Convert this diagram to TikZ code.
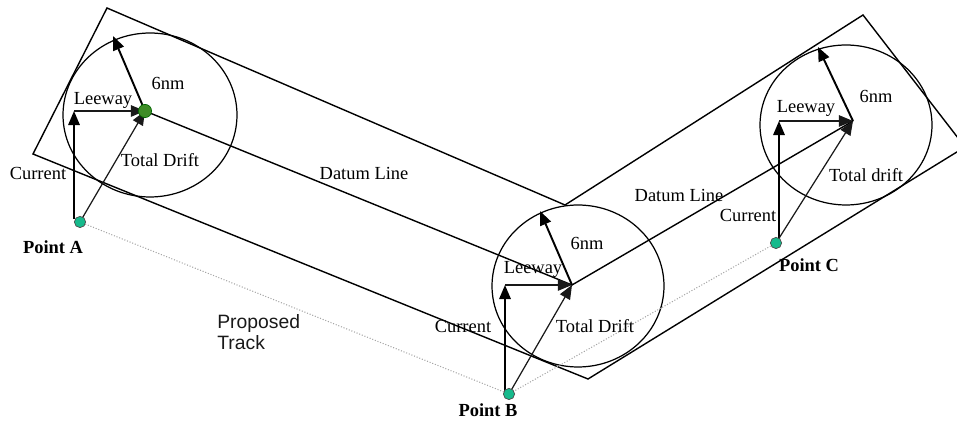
\documentclass[tikz,border=0pt]{standalone}
\usepackage{fontspec}
\setmainfont{Liberation Serif}
\newfontfamily\arialfont{Liberation Sans}
\usetikzlibrary{arrows.meta}
\definecolor{ptteal}{RGB}{22,186,140}
\definecolor{ctrgreen}{RGB}{62,140,38}
\tikzset{
  vec/.style={line width=1.1pt,-{Triangle[length=8pt,width=6.5pt]}},
  drift/.style={line width=0.7pt,black!90,-{Triangle[length=8pt,width=6.5pt]}},
  track/.style={gray!70,densely dotted,line width=0.6pt},
  lbl/.style={font=\fontsize{10.5}{12}\selectfont,inner sep=0pt},
  ptlbl/.style={font=\fontsize{10.5}{12}\selectfont\bfseries,inner sep=0pt},
  ptdot/.style={circle,fill=ptteal,draw=black!70,line width=0.4pt,inner sep=0pt,minimum size=6.4pt}
}

\begin{document}
\begin{tikzpicture}[x=0.02cm,y=-0.02cm]
\useasboundingbox (0,0) rectangle (957,421);
\clip (0,0) rectangle (957,421);
% points of the proposed track and the datum positions
\coordinate (ptA) at (80,222);
\coordinate (ptB) at (509,394);
\coordinate (ptC) at (776,243);
\coordinate (ctrA) at (145,111);
\coordinate (ctrB) at (572,285);
\coordinate (ctrC) at (853,121);
\coordinate (curA0) at (74,219);
\coordinate (curA) at (74,111);
\coordinate (curB0) at (505,391);
\coordinate (curB) at (505,285);
\coordinate (curC0) at (779,240);
\coordinate (curC) at (779,121);
\coordinate (radA) at (113,36);
\coordinate (radB) at (540,211);
\coordinate (radC) at (818,47);
% search area outline
\draw[line width=0.8pt] (107,8) -- (33,154) -- (588,379) -- (965,147) -- (863,15) -- (565,205) -- cycle;
\draw[line width=0.7pt] (150,115) ellipse [x radius=1.74cm, y radius=1.64cm];
\draw[line width=0.7pt] (578,286) ellipse [x radius=1.72cm, y radius=1.62cm];
\draw[line width=0.7pt] (846,125) ellipse [x radius=1.72cm, y radius=1.60cm];
% proposed track
\draw[track] (ptA) -- (ptB) -- (ptC);
% datum line
\draw[line width=0.8pt] (ctrA) -- (ctrB) -- (ctrC);
% drift vectors
\draw[vec] (curA0) -- (curA);
\draw[drift] (curA) -- (ctrA);
\draw[drift] (ptA) -- (ctrA);
\draw[vec] (ctrA) -- (radA);
\draw[vec] (curB0) -- (curB);
\draw[drift] (curB) -- (ctrB);
\draw[drift] (ptB) -- (ctrB);
\draw[vec] (ctrB) -- (radB);
\draw[vec] (curC0) -- (curC);
\draw[drift] (curC) -- (ctrC);
\draw[drift] (ptC) -- (ctrC);
\draw[vec] (ctrC) -- (radC);
% dots
\node[ptdot] (dotA) at (ptA) {};
\node[ptdot] (dotB) at (ptB) {};
\node[ptdot] (dotC) at (ptC) {};
\node[circle,fill=ctrgreen,draw=black!60!green,inner sep=0pt,minimum size=7.5pt] (dotctrA) at (ctrA) {};
% labels
\node[lbl] (radlblA) at (168,83) {6nm};
\node[lbl] (leelblA) at (103,100) {Leeway};
\node[lbl] (tdlblA) at (160,160) {Total Drift};
\node[lbl] (curlblA) at (38,173) {Current};
\node[ptlbl] (ptlblA) at (53,247) {Point A};
\node[lbl] (datlblA) at (364,173) {Datum Line};
\node[lbl] (radlblB) at (587,243) {6nm};
\node[lbl] (leelblB) at (533,269) {Leeway};
\node[lbl] (curlblB) at (463,326) {Current};
\node[lbl] (tdlblB) at (595,326) {Total Drift};
\node[ptlbl] (ptlblB) at (488,410) {Point B};
\node[lbl] (radlblC) at (876,96) {6nm};
\node[lbl] (leelblC) at (806,108) {Leeway};
\node[lbl] (tdlblC) at (866,175) {Total drift};
\node[lbl] (curlblC) at (748,215) {Current};
\node[ptlbl] (ptlblC) at (809,265) {Point C};
\node[lbl] (datlblC) at (679,195) {Datum Line};
\node[anchor=west,align=left,inner sep=0pt,font=\arialfont\fontsize{11}{11.5}\selectfont,gray!20!black] (trklbl) at (217,332) {Proposed\\Track};
\end{tikzpicture}
\end{document}
